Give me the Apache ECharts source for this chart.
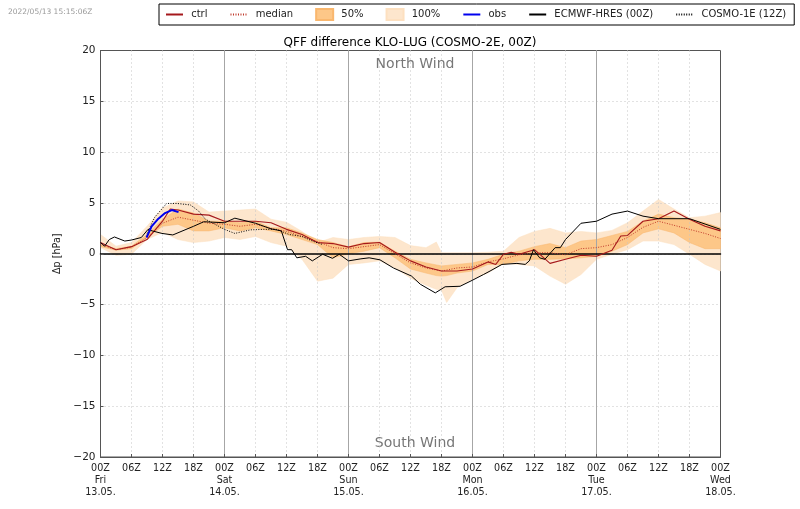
<!DOCTYPE html>
<html><head><meta charset="utf-8">
<script src="https://cdn.jsdelivr.net/npm/echarts@6/dist/echarts.min.js"></script>
<style>html,body{margin:0;padding:0;background:#fff}#c{width:800px;height:509px}</style></head>
<body><div id="c"></div>
<script>
const title = 'QFF difference KLO-LUG (COSMO-2E, 00Z)';
const stamp = '2022/05/13 15:15:06Z';
const dayLabels = {0:['Fri','13.05.'],24:['Sat','14.05.'],48:['Sun','15.05.'],72:['Mon','16.05.'],96:['Tue','17.05.'],120:['Wed','18.05.']};
const hours = [0,3,6,9,12,15,18,21,24,27,30,33,36,39,42,45,48,51,54,57,60,63,65,66,67,69,72,75,78,81,84,87,90,93,96,99,102,105,108,111,114,117,120];
const all_hi = [1.9,0.75,1.1,2.7,4.5,5.2,5.1,4.1,4.2,4.3,4.4,3.4,3.1,2.2,1.1,1.6,1.4,1.6,1.7,1.6,0.8,0.6,1.15,0.1,0.1,0.1,0.1,0.15,0.25,1.6,2.2,2.5,2.05,2.2,2.05,2.3,3.05,4.2,5.35,4.4,3.55,3.7,4.05];
const all_lo = [0.6,-0.15,-0.05,1.4,2.1,1.4,1.1,1.25,1.6,1.4,1.7,1.1,0.75,-0.55,-2.7,-2.4,-1.05,-0.9,-0.7,-1.4,-2.4,-3.1,-3.5,-3.6,-4.8,-3.35,-2.5,-1.9,-0.95,-1.05,-1.2,-2.2,-3.0,-2.05,-0.55,-0.05,0.4,1.25,1.25,0.9,-0.05,-1.05,-1.7];
const iqr_hi = [0.9,0.5,0.75,1.9,3.4,4.4,4.0,3.2,3.2,3.05,3.2,2.55,2.55,2.05,1.4,1.1,0.7,1.1,1.15,0.25,-0.55,-0.9,-1.1,-1.2,-1.15,-1.05,-0.9,-0.55,-0.05,0.25,0.7,1.0,0.6,1.25,1.4,1.8,2.2,3.2,3.9,3.55,3.4,3.05,2.55];
const iqr_lo = [0.7,0.35,0.5,1.6,2.7,2.9,2.25,2.25,2.55,2.25,2.55,2.25,1.9,1.4,0.9,-0.4,0,0.25,0.6,-0.4,-1.5,-1.9,-2.15,-2.2,-2.15,-1.9,-1.7,-1.05,-1.05,-0.7,-0.55,-0.55,-0.5,-0.4,-0.25,0.25,0.9,2.05,2.45,2.05,1.1,0.5,0.5];
const median = [0.9,0.4,0.65,1.6,3.0,3.6,3.3,3.0,2.9,2.7,2.9,2.5,2.2,1.7,1.2,0.6,0.5,0.7,0.9,0,-0.9,-1.4,-1.6,-1.7,-1.6,-1.4,-1.3,-0.8,-0.5,-0.1,0.1,0.1,-0.1,0.5,0.6,0.9,1.6,2.6,3.2,2.8,2.4,2.0,1.5];
const ctrl = [[0,1.1],[1.5,0.75],[3,0.4],[6,0.7],[9,1.4],[12,3.2],[13.5,4.4],[15,4.3],[18,3.9],[21,3.8],[24,3.2],[27,3.2],[30,3.2],[33,3.05],[36,2.4],[39,1.9],[42,1.1],[45,1.0],[48,0.65],[51,1.0],[54,1.1],[57,0.15],[60,-0.7],[63,-1.3],[66,-1.7],[69,-1.7],[72,-1.5],[75,-0.8],[76.5,-1.05],[78,-0.05],[79.5,0.15],[81,-0.05],[84,0.4],[87,-0.95],[90,-0.55],[93,-0.15],[96,-0.25],[99,0.35],[100.7,1.75],[102,1.8],[105,3.2],[108,3.45],[111,4.2],[114,3.4],[117,2.7],[120,2.25]];
const obs = [[8.9,1.6],[9.9,2.7],[11.2,3.45],[12.5,4.0],[13.8,4.3],[15.1,4.1]];
const ecmwf = [[0,1.1],[0.8,0.75],[1.7,1.4],[2.7,1.65],[4.7,1.25],[6,1.35],[7.9,1.6],[9.2,2.4],[10,2.25],[11.9,2.0],[14,1.85],[18,2.7],[20,3.15],[24,3.05],[26,3.5],[30,3.0],[33,2.45],[35,2.25],[36.2,0.4],[37,0.4],[38,-0.4],[39.7,-0.25],[41,-0.7],[43,-0.05],[44.9,-0.45],[46.2,-0.05],[48,-0.7],[50.4,-0.5],[52,-0.4],[54.1,-0.6],[56.7,-1.4],[60.2,-2.2],[61.9,-3.0],[64.8,-3.85],[66.7,-3.25],[69.6,-3.2],[72,-2.6],[74.1,-2.05],[75.4,-1.7],[77.7,-1.05],[80.6,-0.95],[82.2,-1.05],[83,-0.7],[83.8,0.4],[85,-0.4],[86,-0.55],[88,0.6],[89,0.6],[90,1.4],[93,3.0],[96,3.2],[99,3.9],[102,4.2],[105,3.7],[108,3.45],[114,3.45],[120,2.4]];
const cosmo = [[9,2.0],[10.5,3.6],[12.8,4.95],[14.8,4.95],[17.4,4.8],[19,4.2],[20.3,3.4],[24,2.4],[26,2.0],[29,2.35],[31.6,2.4],[34,2.4],[36.5,1.9],[39,1.7],[41,1.25],[43,0.9]];

const FONT = 'DejaVu Sans';
function band(name, lo, hi, fill, edge, z) {
  return {
    name, type:'custom', coordinateSystem:'cartesian2d', z, clip:true,
    itemStyle:{color:fill, borderColor:edge, borderWidth:0.5},
    data: hours.map((h,i)=>[h,lo[i],hi[i]]),
    encode:{x:0,y:[1,2]},
    renderItem(params, api){
      if (params.dataIndex !== 0) return null;
      const up = hours.map((h,i)=>api.coord([h,hi[i]]));
      const dn = hours.map((h,i)=>api.coord([h,lo[i]])).reverse();
      return {type:'polygon', shape:{points:up.concat(dn)}, style:{fill, stroke:edge, lineWidth:0.5}};
    }
  };
}
function line(name, data, color, width, type, z) {
  return {name, type:'line', data, showSymbol:false, symbol:'none', z, animation:false,
    lineStyle:{color, width, type}, itemStyle:{color}};
}
const hideDot = {opacity:0};
const chart = echarts.init(document.getElementById('c'), null, {renderer:'canvas'});
chart.setOption({
  animation:false,
  backgroundColor:'#fff',
  textStyle:{fontFamily:FONT},
  title:{text:title, left:405, top:32, textAlign:'center', textStyle:{fontFamily:FONT,fontSize:12,fontWeight:'normal',color:'#000'}},
  legend:{
    left:159, top:4, padding:[4,8,4,6], itemGap:22, itemWidth:17, itemHeight:11,
    width:640, borderColor:'#000', borderWidth:1,
    textStyle:{fontFamily:FONT,fontSize:10,color:'#222'},
    formatter:n=>' '+n,
    data:[{name:'ctrl',itemStyle:hideDot},{name:'median',itemStyle:hideDot},{name:'50%',icon:'rect'},{name:'100%',icon:'rect'},{name:'obs',itemStyle:hideDot},{name:'ECMWF-HRES (00Z)',itemStyle:hideDot},{name:'COSMO-1E (12Z)',itemStyle:hideDot}]
  },
  grid:{left:100.5,right:79.5,top:50.5,bottom:52,show:true,borderColor:'#555',borderWidth:1,backgroundColor:'#fff'},
  xAxis:[{
    type:'value',min:0,max:120,interval:6,position:'bottom',z:2,
    axisLine:{onZero:false,lineStyle:{color:'#555'}},
    axisTick:{inside:true,length:3,lineStyle:{color:'#555'}},
    splitLine:{show:true,showMinLine:false,showMaxLine:false,lineStyle:{color:'#c4c4c4',type:[1,3],width:1}},
    axisLabel:{fontFamily:FONT,fontSize:9.6,color:'#222',lineHeight:12,margin:5,showMaxLabel:true,showMinLabel:true,hideOverlap:false,
      formatter:v=>{const h=String(v%24).padStart(2,'0')+'Z';return dayLabels[v]?[h].concat(dayLabels[v]).join('\n'):h;}}
  },{
    type:'value',min:0,max:120,interval:24,position:'bottom',z:2,
    axisLine:{show:true,onZero:true,lineStyle:{color:'#000',width:1.5}},
    axisTick:{show:false},axisLabel:{show:false},
    splitLine:{show:true,showMinLine:false,showMaxLine:false,lineStyle:{color:'#a6a6a6',width:1}}
  }],
  yAxis:{
    type:'value',min:-20,max:20,interval:5,z:2,
    name:'\u0394p [hPa]',nameLocation:'middle',nameGap:33,nameRotate:90,nameTextStyle:{fontFamily:FONT,fontSize:9.6,color:'#222'},
    axisLine:{show:true,lineStyle:{color:'#555'}},
    axisTick:{inside:true,length:3,lineStyle:{color:'#555'}},
    splitLine:{show:true,showMinLine:false,showMaxLine:false,lineStyle:{color:'#c4c4c4',type:[1,3],width:1}},
    axisLabel:{fontFamily:FONT,fontSize:10.5,color:'#222',margin:5,formatter:v=>String(v).replace('-','\u2212')}
  },
  graphic:[
    {type:'text',left:8,top:8,style:{text:stamp,font:'7.5px "DejaVu Sans"',fill:'#999'}},
    {type:'text',x:415,y:64,style:{text:'North Wind',font:'14px "DejaVu Sans"',fill:'#777',align:'center',verticalAlign:'middle'}},
    {type:'text',x:415,y:443,style:{text:'South Wind',font:'14px "DejaVu Sans"',fill:'#777',align:'center',verticalAlign:'middle'}}
  ],
  series:[
    band('100%',all_lo,all_hi,'#fde6cd','#fde0c0',1),
    band('50%',iqr_lo,iqr_hi,'#fdc788','#f9b76e',1),
    line('median',hours.map((h,i)=>[h,median[i]]),'#c0392b',1,[1,1.5],3),
    line('ctrl',ctrl,'#a5181c',1.1,'solid',4),
    line('ECMWF-HRES (00Z)',ecmwf,'#000',1,'solid',4),
    line('COSMO-1E (12Z)',cosmo,'#000',1,[1,1.5],4),
    line('obs',obs,'#0000ee',2,'solid',5)
  ]
});
</script></body></html>
